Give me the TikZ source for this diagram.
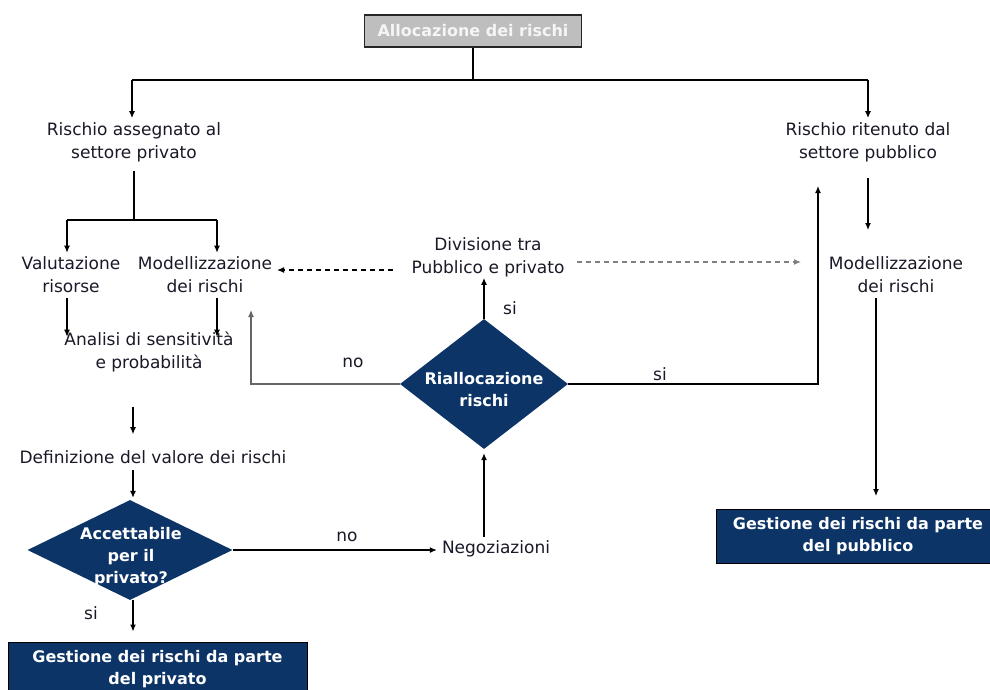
\documentclass[tikz,border=0pt]{standalone}
\usepackage{fontspec}
\setmainfont{DejaVu Sans}
\usetikzlibrary{shapes.geometric,arrows.meta}
\definecolor{navy}{RGB}{12,52,102}
\definecolor{topgray}{RGB}{190,190,190}
\definecolor{txtcol}{RGB}{25,25,40}
\begin{document}
\begin{tikzpicture}[x=1pt,y=-1pt,
  txt/.style={font=\fontsize{17}{23}\selectfont, align=center, inner sep=0pt, text=txtcol},
  btxt/.style={font=\fontsize{16}{22}\selectfont\bfseries, align=center, inner sep=0pt, text=white},
  arr/.style={draw=black, line width=1.2pt, -{Latex[length=7pt,width=6pt]}},
  ln/.style={draw=black, line width=1.2pt},
  dsh/.style={dash pattern=on 5pt off 4pt},
  navybox/.style={fill=navy, draw=black, line width=1pt, btxt},
  dia/.style={diamond, fill=navy, inner sep=0pt}]
\clip (0,0) rectangle (990,689);
\fill[white] (0,0) rectangle (990,689);

% nodes
\node[btxt, draw=black!85, line width=1.5pt, fill=topgray, text=white!92!gray,
      minimum width=217pt, minimum height=32pt] (top) at (473,31) {Allocazione dei rischi};
\node[txt] (priv) at (134,142) {Rischio assegnato al\\settore privato};
\node[txt] (pub) at (868,142) {Rischio ritenuto dal\\settore pubblico};
\node[txt] (val) at (71,275) {Valutazione\\risorse};
\node[txt] (modpr) at (205,275) {Modellizzazione\\dei rischi};
\node[txt] (ana) at (149,352) {Analisi di sensitività\\e probabilità};
\node[txt] (def) at (153,457) {Definizione del valore dei rischi};
\node[dia, minimum width=205pt, minimum height=100pt] (acc) at (130,550) {};
\node[btxt] (acct) at (131,557) {Accettabile\\per il\\privato?};
\node[navybox, minimum width=299pt, minimum height=54pt] (gpriv) at (157.5,669) {Gestione dei rischi da parte\\del privato};
\node[txt] (neg) at (496,549) {Negoziazioni};
\node[dia, minimum width=168pt, minimum height=130pt] (rial) at (484,384) {};
\node[btxt] (rialt) at (484,390) {Riallocazione\\rischi};
\node[txt] (div) at (488,257) {Divisione tra\\Pubblico e privato};
\node[txt] (modpu) at (896,275) {Modellizzazione\\dei rischi};
\node[navybox, minimum width=284pt, minimum height=54pt] (gpub) at (858,536) {Gestione dei rischi da parte\\del pubblico};

% labels
\node[txt] (l1) at (91,613) {si};
\node[txt] (l2) at (347,537) {no};
\node[txt] (l3) at (353,363) {no};
\node[txt] (l4) at (510,308) {si};
\node[txt] (l5) at (660,374) {si};

% coordinates
\coordinate (hl) at (132,80);
\coordinate (hr) at (868,80);
\coordinate (pj) at (134,220);
\coordinate (pjl) at (67,220);
\coordinate (pjr) at (217,220);
\coordinate (cx) at (133,0);
\coordinate (lwt) at (251,310);
\coordinate (ret) at (818,186);
\coordinate (dl1) at (393,270);
\coordinate (dl2) at (277,270);
\coordinate (dr1) at (577,262);
\coordinate (dr2) at (801,262);
\coordinate (pm) at (868,230);
\coordinate (mg) at (876,496);

% connectors
\draw[ln] (top.south) -- (top.south |- hl);
\draw[ln] (hl) -- (hr);
\draw[arr, shorten >=4pt] (hl) -- (priv.north -| hl);
\draw[arr, shorten >=4pt] (hr) -- (pub.north -| hr);
\draw[ln, shorten <=9pt] (priv.south) -- (pj);
\draw[ln] (pjl) -- (pjr);
\draw[arr, shorten >=4pt] (pjl) -- (val.north -| pjl);
\draw[arr, shorten >=4pt] (pjr) -- (modpr.north -| pjr);
\draw[arr, shorten <=5pt, shorten >=-5pt] (val.south -| pjl) -- (ana.north -| pjl);
\draw[arr, shorten <=5pt, shorten >=-5pt] (modpr.south -| pjr) -- (ana.north -| pjr);
\draw[arr, shorten <=35pt, shorten >=16pt] (ana.south -| cx) -- (def.north -| cx);
\draw[arr, shorten <=6pt, shorten >=2pt] (def.south -| cx) -- (acc.north -| cx);
\draw[arr, shorten >=10pt] (acc.south -| cx) -- (gpriv.north -| cx);
\draw[arr, shorten >=5pt] (acc.east) -- (acc.east -| neg.west);
\draw[arr, shorten <=4pt, shorten >=4pt] (rial.south |- neg.north) -- (rial.south);
\draw[arr, shorten >=1pt] (rial.north) -- (rial.north |- div.south);
\draw[arr, draw=black!60] (rial.west) -| (lwt);
\draw[arr] (rial.east) -| (ret);
\draw[arr, dsh] (dl1) -- (dl2);
\draw[arr, dsh, draw=black!50] (dr1) -- (dr2);
\draw[arr, shorten <=16pt] (pub.south -| pm) -- (pm);
\draw[arr, shorten <=5pt] (modpu.south -| mg) -- (mg);
\end{tikzpicture}
\end{document}
